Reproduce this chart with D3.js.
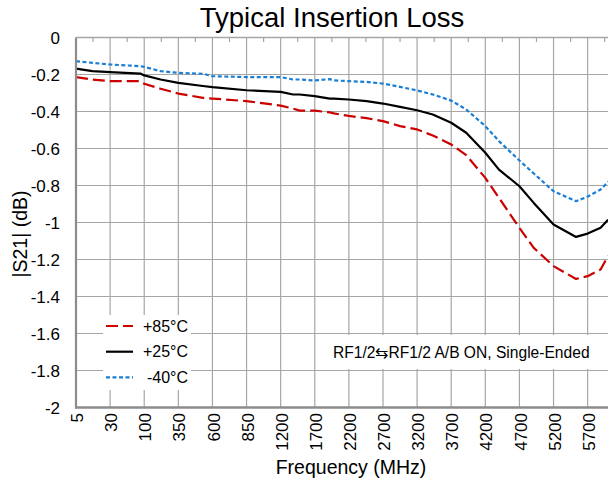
<!DOCTYPE html>
<html>
<head>
<meta charset="utf-8">
<script src="https://cdn.jsdelivr.net/npm/d3@7"></script>
<style>
body{margin:0;background:#fff;}
text{font-family:"Liberation Sans", Arial, sans-serif;fill:#000;}
</style>
</head>
<body>
<div id="chart"></div>
<script>
///////////////////////////////////////////////////////////
////////////////////////// data ///////////////////////////
///////////////////////////////////////////////////////////
var tickLabels = ["5","30","100","350","600","850","1200","1700","2200","2700","3200","3700","4200","4700","5200","5700"];
// category axis: frequency at each (equally spaced) grid line, last one is off the picture
var tickFreqs = [5,30,100,350,600,850,1200,1700,2200,2700,3200,3700,4200,4700,5200,5700,6200];
var yTicks = [0,-0.2,-0.4,-0.6,-0.8,-1,-1.2,-1.4,-1.6,-1.8,-2];

var freqs = [5,17,30,92,100,220,350,530,600,850,1200,1380,1480,1700,1920,1980,2200,2460,2700,2950,
             3200,3430,3700,3920,4200,4400,4700,4910,5200,5530,5700,5890,6000];
var s21_85 = [-0.214,-0.227,-0.236,-0.236,-0.25,-0.277,-0.303,-0.326,-0.33,-0.344,-0.368,-0.384,-0.395,-0.395,-0.405,-0.41,-0.424,-0.436,-0.452,-0.479,
              -0.497,-0.53,-0.578,-0.636,-0.759,-0.867,-1.029,-1.137,-1.236,-1.305,-1.29,-1.254,-1.18];
var s21_25 = [-0.168,-0.182,-0.187,-0.195,-0.205,-0.227,-0.245,-0.262,-0.268,-0.285,-0.294,-0.308,-0.308,-0.317,-0.33,-0.33,-0.335,-0.344,-0.357,-0.375,
              -0.393,-0.416,-0.461,-0.515,-0.623,-0.714,-0.804,-0.894,-1.011,-1.078,-1.06,-1.029,-0.985];
var s21_m40 = [-0.128,-0.137,-0.146,-0.155,-0.159,-0.182,-0.191,-0.196,-0.209,-0.214,-0.214,-0.227,-0.227,-0.232,-0.225,-0.232,-0.236,-0.24,-0.249,-0.267,
               -0.286,-0.308,-0.341,-0.389,-0.479,-0.56,-0.665,-0.735,-0.831,-0.885,-0.86,-0.822,-0.78];
var seriesNames = ["+85°C","+25°C","-40°C"];
var note = "RF1/2\u21C6RF1/2 A/B ON, Single-Ended";

///////////////////////////////////////////////////////////
////////////////////// layout / styles ////////////////////
///////////////////////////////////////////////////////////
var wdim = 608, hdim = 484;
var plot = {left:76, top:37.5, bottom:407.5, step:34.11};
var styles = [
  {color:"#cc0000", dash:"12,5"},
  {color:"#000000", dash:null},
  {color:"#1a7fd4", dash:"4,2.5"}
];
var gridColor = "#a6a6a6";

var svg = d3.select("#chart").append("svg")
  .attr("width", wdim)
  .attr("height", hdim);

var x = d3.scaleLinear()
  .domain(tickFreqs)
  .range(tickFreqs.map(function(d,i){return plot.left + i*plot.step;}));
var plotRight = x(tickFreqs[tickFreqs.length-1]);

var y = d3.scaleLinear()
  .domain([0,-2])
  .range([plot.top, plot.bottom]);

///////////////////////////////////////////////////////////
///////////////////////// grid ////////////////////////////
///////////////////////////////////////////////////////////
var grid = svg.append("g").attr("class","grid");

grid.selectAll(".hgrid")
  .data(yTicks.slice(1,-1))
  .enter().append("line")
  .attr("x1", plot.left).attr("x2", plotRight)
  .attr("y1", function(d){return y(d);}).attr("y2", function(d){return y(d);})
  .attr("stroke", gridColor).attr("stroke-width", 1.2);

grid.selectAll(".vgrid")
  .data(tickFreqs.slice(1))
  .enter().append("line")
  .attr("x1", function(d){return x(d);}).attr("x2", function(d){return x(d);})
  .attr("y1", plot.top).attr("y2", plot.bottom)
  .attr("stroke", gridColor).attr("stroke-width", 1.2);

// little ticks on the top border, half way between grid lines
grid.selectAll(".minor")
  .data(d3.range(tickFreqs.length-1))
  .enter().append("line")
  .attr("x1", function(i){return (x(tickFreqs[i])+x(tickFreqs[i+1]))/2;})
  .attr("x2", function(i){return (x(tickFreqs[i])+x(tickFreqs[i+1]))/2;})
  .attr("y1", plot.top).attr("y2", plot.top+4.5)
  .attr("stroke", gridColor).attr("stroke-width", 1.2);

///////////////////////////////////////////////////////////
///////////////// white boxes behind texts ////////////////
///////////////////////////////////////////////////////////
svg.append("rect")
  .attr("x", 103).attr("y", 315).attr("width", 88).attr("height", 75)
  .attr("fill", "#fff");
svg.append("rect")
  .attr("x", 326).attr("y", 335).attr("width", 272).attr("height", 34)
  .attr("fill", "#fff");

///////////////////////////////////////////////////////////
///////////////////////// curves //////////////////////////
///////////////////////////////////////////////////////////
var line = d3.line()
  .x(function(d){return x(d[0]);})
  .y(function(d){return y(d[1]);});

var allSeries = [s21_85, s21_25, s21_m40];

svg.append("clipPath").attr("id","plotClip")
  .append("rect")
  .attr("x", plot.left).attr("y", plot.top)
  .attr("width", plotRight-plot.left).attr("height", plot.bottom-plot.top);

svg.append("g").attr("clip-path","url(#plotClip)")
  .selectAll("path")
  .data(allSeries)
  .enter().append("path")
  .attr("d", function(s){return line(d3.zip(freqs, s));})
  .attr("fill", "none")
  .attr("stroke", function(d,i){return styles[i].color;})
  .attr("stroke-width", 2.2)
  .attr("stroke-dasharray", function(d,i){return styles[i].dash;})
  .attr("stroke-linejoin", "round");

///////////////////////////////////////////////////////////
///////////////////////// frame ///////////////////////////
///////////////////////////////////////////////////////////
svg.append("line")
  .attr("x1", plot.left).attr("x2", plotRight)
  .attr("y1", plot.top).attr("y2", plot.top)
  .attr("stroke", gridColor).attr("stroke-width", 1.5);
svg.append("line")
  .attr("x1", plot.left).attr("x2", plot.left)
  .attr("y1", plot.top).attr("y2", plot.bottom+1)
  .attr("stroke", "#8c8c8c").attr("stroke-width", 2.2);
svg.append("line")
  .attr("x1", plot.left-1).attr("x2", plotRight)
  .attr("y1", plot.bottom).attr("y2", plot.bottom)
  .attr("stroke", "#8c8c8c").attr("stroke-width", 2.4);

///////////////////////////////////////////////////////////
///////////////////////// labels //////////////////////////
///////////////////////////////////////////////////////////
svg.selectAll(".ylab")
  .data(yTicks)
  .enter().append("text")
  .attr("x", 60)
  .attr("y", function(d){return y(d);})
  .attr("dy", "0.36em")
  .attr("text-anchor", "end")
  .style("font-size", "17px")
  .text(function(d){return String(+d.toFixed(1));});

svg.selectAll(".xlab")
  .data(tickLabels)
  .enter().append("text")
  .attr("transform", function(d,i){return "translate(" + (x(tickFreqs[i])+1) + "," + 413 + ") rotate(-90)";})
  .attr("dy", "0.36em")
  .attr("text-anchor", "end")
  .style("font-size", "17px")
  .text(function(d){return d;});

svg.append("text")
  .attr("x", 332).attr("y", 27)
  .attr("text-anchor", "middle")
  .style("font-size", "27.5px")
  .text("Typical Insertion Loss");

svg.append("text")
  .attr("x", 351).attr("y", 474)
  .attr("text-anchor", "middle")
  .style("font-size", "19.5px")
  .text("Frequency (MHz)");

svg.append("text")
  .attr("transform", "translate(27,234) rotate(-90)")
  .attr("text-anchor", "middle")
  .style("font-size", "19.5px")
  .text("|S21| (dB)");

svg.append("text")
  .attr("x", 333).attr("y", 357.5)
  .style("font-size", "15.6px")
  .text(note);

///////////////////////////////////////////////////////////
///////////////////////// legend //////////////////////////
///////////////////////////////////////////////////////////
var legend = svg.selectAll(".legend")
  .data(seriesNames)
  .enter().append("g")
  .attr("transform", function(d,i){return "translate(0," + (326 + i*25.7) + ")";});

legend.append("line")
  .attr("x1", 106).attr("x2", 133)
  .attr("stroke", function(d,i){return styles[i].color;})
  .attr("stroke-width", 2.2)
  .attr("stroke-dasharray", function(d,i){return styles[i].dash;});

legend.append("text")
  .attr("x", 188)
  .attr("dy", "0.36em")
  .attr("text-anchor", "end")
  .style("font-size", "16px")
  .text(function(d){return d;});
</script>
</body>
</html>
